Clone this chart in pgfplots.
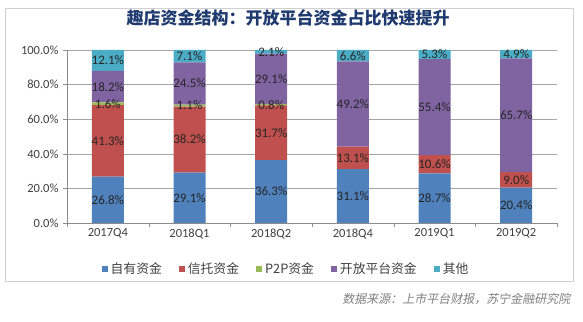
\documentclass[border=0pt]{standalone}
\usepackage{pgfplots}
\pgfplotsset{compat=1.18}
\usepackage{fontspec}
\setmainfont{Carlito}
\newfontfamily\cjk{Noto Sans CJK SC}
\newfontfamily\cjkit{Noto Sans CJK SC}[FakeSlant=0.2]
\definecolor{c1}{HTML}{4F81BD}
\definecolor{c2}{HTML}{C0504D}
\definecolor{c3}{HTML}{9BBB59}
\definecolor{c4}{HTML}{8064A2}
\definecolor{c5}{HTML}{4BACC6}
\definecolor{titleblue}{HTML}{1F3A6E}
\definecolor{framegray}{HTML}{D0D0D0}
\definecolor{axisgray}{HTML}{8C8C8C}
\definecolor{gridgray}{HTML}{A6A6A6}
\definecolor{labelgray}{HTML}{404040}
\begin{document}
\begin{tikzpicture}[x=1pt,y=1pt]
\path[use as bounding box] (0,0) rectangle (583,321);
\draw[color=framegray, line width=0.8pt] (5,40) rectangle (573,313);
\node[font=\cjk\bfseries\fontsize{17}{17}\selectfont, text=titleblue] at (288,303) {趣店资金结构：开放平台资金占比快速提升};
\node[font=\cjkit\fontsize{12}{12}\selectfont, text=gray, anchor=east] at (574,22) {数据来源：上市平台财报，苏宁金融研究院};
\begin{axis}[
  at={(67pt,98pt)}, anchor=south west, scale only axis,
  width=490pt, height=173pt,
  ybar stacked, bar width=32pt,
  xmin=-0.5, xmax=5.5, ymin=0, ymax=100,
  axis x line*=bottom, axis y line*=left,
  axis line style={draw=axisgray, -},
  xtick={-0.5,0.5,1.5,2.5,3.5,4.5,5.5}, xticklabels={},
  extra x ticks={0,1,2,3,4,5},
  extra x tick labels={2017Q4,2018Q1,2018Q2,2018Q4,2019Q1,2019Q2},
  extra x tick style={major tick length=0pt},
  ytick={0,20,40,60,80,100},
  yticklabel={\pgfmathprintnumber[fixed,fixed zerofill,precision=1]{\tick}\%},
  /pgf/number format/assume math mode=true,
  tick align=outside, major tick length=4pt,
  tick style={draw=axisgray},
  ymajorgrids, grid style={draw=gridgray, line width=0.5pt},
  tick label style={font=\fontsize{12.5}{14}\selectfont, text=labelgray},
  xticklabel style={yshift=-2pt},
  yticklabel style={xshift=-1pt},
  legend image code/.code={\fill[#1] (0pt,-3pt) rectangle (6pt,3pt);},
  legend columns=5,
  legend style={at={(0.447,-0.266)}, anchor=center, draw=none, fill=none,
    font=\cjk\fontsize{12.8}{14}\selectfont, text=labelgray,
    /tikz/every even column/.append style={column sep=15pt},
    /tikz/every odd column/.append style={column sep=1pt}},
]
\addplot[fill=c1, draw=none] coordinates {(0,26.8) (1,29.1) (2,36.3) (3,31.1) (4,28.7) (5,20.4)};
\addplot[fill=c2, draw=none] coordinates {(0,41.3) (1,38.2) (2,31.7) (3,13.1) (4,10.6) (5,9.0)};
\addplot[fill=c3, draw=none] coordinates {(0,1.6) (1,1.1) (2,0.8) (3,0) (4,0) (5,0)};
\addplot[fill=c4, draw=none] coordinates {(0,18.2) (1,24.5) (2,29.1) (3,49.2) (4,55.4) (5,65.7)};
\addplot[fill=c5, draw=none] coordinates {(0,12.1) (1,7.1) (2,2.1) (3,6.6) (4,5.3) (5,4.9)};
\legend{自有资金,信托资金,P2P资金,开放平台资金,其他}
\end{axis}
% data labels at the middle of each segment
\begin{axis}[
  at={(67pt,98pt)}, anchor=south west, scale only axis,
  width=490pt, height=173pt,
  xmin=-0.5, xmax=5.5, ymin=0, ymax=100,
  hide axis, clip=false,
  point meta=explicit symbolic,
  nodes near coords,
  every node near coord/.append style={anchor=center, font=\fontsize{13}{14}\selectfont, text=black!85, inner sep=0pt},
]
\addplot[only marks, mark=none] coordinates {
 (0,13.4)[26.8\%] (0,47.45)[41.3\%] (0,68.9)[1.6\%] (0,78.8)[18.2\%] (0,93.95)[12.1\%]
 (1,14.55)[29.1\%] (1,48.2)[38.2\%] (1,67.85)[1.1\%] (1,80.65)[24.5\%] (1,96.45)[7.1\%]
 (2,18.15)[36.3\%] (2,52.15)[31.7\%] (2,68.4)[0.8\%] (2,83.35)[29.1\%] (2,98.95)[2.1\%]
 (3,15.55)[31.1\%] (3,37.65)[13.1\%] (3,68.8)[49.2\%] (3,96.7)[6.6\%]
 (4,14.35)[28.7\%] (4,34.0)[10.6\%] (4,67.0)[55.4\%] (4,97.35)[5.3\%]
 (5,10.2)[20.4\%] (5,24.9)[9.0\%] (5,62.25)[65.7\%] (5,97.55)[4.9\%]
};
\end{axis}
\end{tikzpicture}
\end{document}
